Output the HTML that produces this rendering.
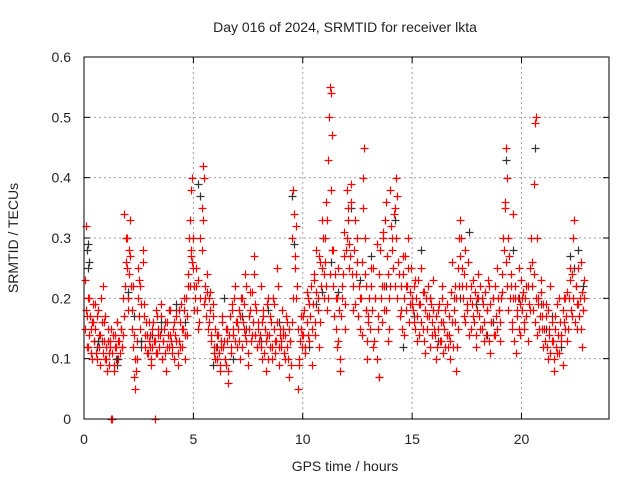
<!DOCTYPE html>
<html><head><meta charset="utf-8"><style>
body{margin:0;background:#fff;}
svg{display:block;font-family:"Liberation Sans",sans-serif;}
</style></head><body>
<svg id="chart" width="640" height="480" xmlns="http://www.w3.org/2000/svg">
<rect width="640" height="480" fill="#fff"/>
<text x="345" y="32" font-size="14" text-anchor="middle" fill="#222">Day 016 of 2024, SRMTID for receiver lkta</text>
<text x="345" y="471" font-size="14" text-anchor="middle" fill="#222">GPS time / hours</text>
<text transform="translate(18,238) rotate(-90)" font-size="14" text-anchor="middle" fill="#222">SRMTID / TECUs</text>
<g id="grid"></g>
<g id="ticks"></g>
<g id="marks"></g>
<rect x="84" y="57" width="525" height="362" fill="none" stroke="#000" stroke-width="1"/>
</svg>
<script>
const xTicks = [0,5,10,15,20];
const yTicks = [0,0.1,0.2,0.3,0.4,0.5,0.6];
const yTickLabels = ["0","0.1","0.2","0.3","0.4","0.5","0.6"];
const redTimes = [
0.05,0.1,0.15,0.2,0.25,0.3,0.35,0.4,0.45,0.5,0.55,0.6,0.7,0.75,0.8,0.85,0.9,0.95,
1.0,1.05,1.1,1.15,1.2,1.25,1.3,1.35,1.4,1.45,1.5,1.55,1.6,1.7,1.75,1.8,1.85,1.9,1.95,
2.0,2.05,2.1,2.15,2.2,2.25,2.3,2.35,2.4,2.45,2.5,2.55,2.6,2.7,2.75,2.8,2.9,2.95,
3.0,3.05,3.1,3.2,3.25,3.3,3.35,3.4,3.5,3.55,3.6,3.7,3.75,3.8,3.9,3.95,
4.0,4.1,4.2,4.3,4.35,4.4,4.5,4.55,4.6,4.7,4.75,4.8,4.85,4.9,4.95,4.9,
5.0,5.05,5.1,5.2,5.3,5.4,5.45,5.5,5.55,5.6,5.7,5.75,5.8,5.9,5.95,
6.0,6.1,6.2,6.25,6.3,6.4,6.5,6.55,6.6,6.7,6.75,6.8,6.9,6.95,
7.0,7.1,7.15,7.2,7.3,7.35,7.4,7.5,7.55,7.6,7.7,7.75,7.8,7.9,7.95,
8.0,8.1,8.15,8.2,8.3,8.35,8.4,8.5,8.55,8.6,8.7,8.75,8.8,8.9,8.95,
9.0,9.05,9.1,9.2,9.3,9.35,9.4,9.5,9.55,9.6,9.65,9.7,9.8,9.85,9.9,9.95,
10.0,10.1,10.2,10.25,10.3,10.4,10.5,10.55,10.6,10.7,10.75,10.8,10.9,10.95,
11.0,11.05,11.1,11.15,11.2,11.25,11.3,11.35,11.4,11.5,11.55,11.6,11.7,11.75,11.8,11.9,11.95,
12.0,12.05,12.1,12.2,12.25,12.3,12.4,12.5,12.6,12.7,12.75,12.8,12.85,12.9,12.95,
13.0,13.1,13.2,13.3,13.4,13.45,13.5,13.6,13.65,13.7,13.8,13.85,13.9,13.95,
14.0,14.1,14.2,14.25,14.3,14.4,14.5,14.6,14.65,14.7,14.8,14.9,14.95,
15.0,15.1,15.15,15.2,15.3,15.4,15.5,15.55,15.6,15.7,15.8,15.9,15.95,
16.0,16.1,16.2,16.3,16.35,16.4,16.5,16.6,16.7,16.75,16.8,16.9,16.95,
17.0,17.05,17.1,17.15,17.2,17.3,17.35,17.4,17.5,17.6,17.7,17.8,17.9,17.95,
18.0,18.1,18.2,18.3,18.4,18.5,18.55,18.6,18.7,18.8,18.9,18.95,
19.0,19.1,19.2,19.25,19.3,19.35,19.4,19.5,19.55,19.6,19.7,19.75,19.8,19.9,19.95,
20.0,20.1,20.2,20.3,20.4,20.5,20.55,20.6,20.65,20.7,20.75,20.8,20.9,20.95,
21.0,21.1,21.2,21.25,21.3,21.4,21.5,21.55,21.6,21.7,21.8,21.9,21.95,
22.0,22.1,22.2,22.3,22.35,22.4,22.5,22.55,22.6,22.7,22.75,22.8,22.85
];
const redValues = [
.23,.32,.17,.12,.2,.15,.1,.16,.13,.19,.11,.17,.14,.09,.13,.22,.16,.1,
.12,.08,.15,.11,.13,0,0,.09,.14,.12,.16,.1,.13,.15,.12,.2,.34,.3,.25,
.18,.28,.33,.22,.15,.12,.07,.05,.1,.25,.17,.22,.13,.28,.19,.14,.11,.16,
.12,.09,.15,.13,0,.11,.17,.14,.19,.1,.13,.16,.08,.12,.18,.14,
.11,.16,.13,.09,.18,.12,.15,.2,.1,.14,.22,.3,.33,.38,.4,.27,
.25,.18,.22,.15,.3,.35,.42,.4,.2,.24,.16,.21,.13,.19,.11,
.1,.14,.08,.12,.17,.13,.09,.15,.06,.11,.19,.14,.22,.16,
.12,.18,.1,.2,.15,.24,.13,.09,.17,.21,.14,.27,.19,.12,.16,
.13,.22,.1,.17,.08,.14,.2,.12,.16,.1,.19,.13,.25,.09,.15,
.12,.18,.14,.1,.16,.07,.13,.3,.38,.34,.25,.2,.05,.09,.15,.12,
.17,.11,.21,.14,.19,.09,.23,.16,.28,.2,.12,.26,.33,.24,
.3,.36,.18,.43,.5,.55,.54,.47,.28,.2,.12,.25,.08,.17,.22,.31,.15,
.38,.35,.29,.39,.24,.18,.33,.26,.2,.14,.4,.45,.3,.22,.1,
.17,.25,.12,.2,.29,.15,.07,.22,.31,.18,.36,.27,.13,.2,
.38,.3,.35,.4,.37,.24,.18,.27,.14,.22,.3,.19,.25,
.2,.16,.23,.13,.19,.25,.15,.21,.11,.17,.2,.14,.23,
.15,.1,.18,.13,.22,.16,.12,.19,.14,.1,.26,.2,.16,
.08,.12,.25,.3,.33,.22,.17,.28,.19,.14,.22,.17,.12,.2,
.24,.15,.2,.13,.18,.22,.11,.16,.2,.14,.25,.18,
.13,.21,.28,.35,.45,.4,.3,.22,.15,.34,.2,.11,.18,.25,.14,
.2,.16,.22,.13,.18,.26,.39,.49,.5,.3,.2,.15,.23,.17,
.12,.19,.1,.15,.22,.13,.08,.17,.11,.2,.14,.09,.16,
.2,.13,.25,.17,.3,.33,.22,.15,.19,.26,.12,.18,.23
];
// second epoch set: one row per hour, samples every 3 minutes (offset 1.5 min)
const redHourRows = [
[.15,.18,.12,.2,.14,.17,.11,.16,.19,.13,.15,.1,.18,.12,.14,.2,.16,.11,.13,.17],
[.1,.13,.09,.12,.15,.11,.14,.08,.12,.1,.16,.13,.11,.15,.12,.14,.17,.22,.26,.3],
[.2,.24,.27,.18,.22,.14,.1,.08,.13,.2,.23,.15,.19,.26,.17,.12,.16,.14,.11,.13],
[.14,.1,.12,.16,.13,.18,.11,.15,.12,.14,.17,.1,.13,.15,.11,.16,.14,.12,.18,.13],
[.12,.15,.1,.14,.17,.11,.13,.16,.19,.12,.15,.18,.14,.2,.17,.24,.22,.28,.26,.3],
[.22,.2,.25,.18,.23,.16,.2,.28,.33,.19,.22,.17,.21,.15,.2,.18,.14,.17,.12,.15],
[.12,.1,.14,.11,.09,.13,.16,.12,.1,.15,.13,.08,.14,.17,.12,.18,.15,.2,.13,.16],
[.15,.13,.17,.2,.12,.16,.19,.14,.22,.11,.15,.18,.13,.21,.16,.24,.14,.18,.12,.15],
[.14,.12,.16,.18,.11,.15,.13,.19,.1,.14,.17,.12,.2,.15,.11,.13,.16,.22,.12,.14],
[.13,.15,.11,.14,.17,.12,.1,.15,.13,.09,.16,.2,.27,.32,.22,.15,.1,.13,.17,.14],
[.14,.18,.12,.16,.2,.13,.17,.22,.15,.19,.24,.14,.21,.18,.27,.16,.22,.25,.3,.2],
[.26,.22,.33,.2,.24,.38,.28,.22,.17,.24,.15,.2,.13,.18,.1,.2,.24,.27,.19,.28],
[.3,.33,.25,.27,.36,.22,.28,.19,.24,.3,.17,.22,.15,.2,.26,.35,.24,.18,.13,.16],
[.2,.15,.22,.18,.25,.13,.2,.1,.17,.24,.28,.2,.16,.3,.22,.33,.18,.24,.15,.22],
[.32,.28,.25,.34,.22,.3,.2,.26,.17,.22,.15,.24,.2,.27,.18,.22,.25,.16,.21,.19],
[.18,.22,.15,.2,.17,.23,.14,.19,.16,.21,.13,.18,.2,.15,.22,.17,.12,.19,.16,.18],
[.14,.17,.12,.15,.19,.13,.16,.2,.11,.15,.18,.14,.12,.17,.13,.21,.16,.12,.18,.22],
[.2,.15,.22,.27,.3,.25,.2,.24,.16,.22,.18,.26,.2,.15,.19,.23,.16,.21,.14,.18],
[.2,.17,.22,.15,.19,.16,.21,.14,.18,.23,.13,.19,.16,.2,.14,.22,.17,.15,.2,.18],
[.16,.2,.24,.3,.36,.26,.22,.18,.27,.2,.24,.16,.2,.13,.22,.17,.2,.15,.19,.23],
[.18,.21,.15,.2,.17,.22,.19,.25,.3,.22,.18,.24,.16,.2,.14,.19,.17,.21,.15,.19],
[.15,.13,.17,.12,.18,.14,.11,.16,.13,.1,.15,.12,.19,.14,.11,.16,.13,.18,.2,.15],
[.17,.21,.15,.2,.23,.18,.24,.2,.16,.22,.19,.25,.17,.2,.15,.21,.18,.2]
];
const blackTimes = [0.15,0.2,0.6,1.5,2.0,2.6,3.5,4.2,5.2,5.3,5.9,6.4,7.2,7.8,8.4,9.5,9.6,10.3,10.9,11.6,12.2,12.6,13.5,13.1,14.2,14.6,15.4,16.2,17.2,17.6,18.4,19.3,19.6,20.6,20.9,21.4,22.2,22.6,22.8,
1.1,2.3,3.1,4.6,6.1,6.8,7.4,8.1,8.9,10.6,11.3,12.9,13.8,15.1,15.8,16.6,17.9,18.7,19.9,21.1,21.8,22.4];
const blackValues = [.28,.25,.12,.09,.2,.12,.15,.18,.39,.37,.09,.2,.17,.14,.18,.37,.29,.12,.21,.21,.35,.23,.07,.27,.33,.12,.28,.13,.2,.31,.14,.43,.28,.45,.19,.17,.27,.28,.22,
.13,.17,.14,.16,.12,.1,.15,.13,.16,.19,.26,.18,.22,.17,.2,.14,.19,.16,.2,.15,.12,.25];

const NS='http://www.w3.org/2000/svg';
const L=84,R=609,T=57,B=419,XMAX=24,YMAX=0.6;
function xs(v){return L+v*(R-L)/XMAX;}
function ys(v){return B-v*(B-T)/YMAX;}
function mk(tag,attrs,parent){const e=document.createElementNS(NS,tag);for(const k in attrs)e.setAttribute(k,attrs[k]);parent.appendChild(e);return e;}
const grid=document.getElementById('grid'),ticks=document.getElementById('ticks'),marks=document.getElementById('marks');
xTicks.forEach(function(t){
  const x=xs(t);
  if(t>0){const g=mk('line',{x1:x,y1:T,x2:x,y2:B,stroke:'#a0a0a0','stroke-dasharray':'2,3','stroke-width':1},grid);
  
  }
  const a=mk('line',{x1:x,y1:B,x2:x,y2:B-6,stroke:'#000'},ticks);
  
  
  const b=mk('line',{x1:x,y1:T,x2:x,y2:T+6,stroke:'#000'},ticks);
  
  
  const tx=mk('text',{x:x,y:444,'font-size':14,'text-anchor':'middle',fill:'#222'},ticks);
  tx.textContent=String(t);
  
  
});
yTicks.forEach(function(t,i){
  const y=ys(t);
  if(t>0&&t<YMAX){const g=mk('line',{x1:L,y1:y,x2:R,y2:y,stroke:'#a0a0a0','stroke-dasharray':'2,3','stroke-width':1},grid);
  
  }
  const a=mk('line',{x1:L,y1:y,x2:L+6,y2:y,stroke:'#000'},ticks);
  
  
  const b=mk('line',{x1:R,y1:y,x2:R-6,y2:y,stroke:'#000'},ticks);
  
  
  const tx=mk('text',{x:71,y:y+5,'font-size':14,'text-anchor':'end',fill:'#222'},ticks);
  tx.textContent=yTickLabels[i];
  
  
});
function plus(t,v,color,name){
  const x=Math.round(xs(t))+0.5,y=Math.round(ys(v))+0.5;
  const p=mk('path',{d:'M'+(x-4)+' '+y+'H'+(x+4)+'M'+x+' '+(y-4)+'V'+(y+4),stroke:color,'stroke-width':1.2,fill:'none'},marks);
  
  
}
blackTimes.forEach(function(t,i){plus(t,blackValues[i],'#333333','black-point');});
redTimes.forEach(function(t,i){plus(t,redValues[i],'#ff0000','red-point');});
redHourRows.forEach(function(row,h){
  row.forEach(function(v,k){plus(h+0.025+k*0.05,v,'#ff0000','red-point');});
});
blackTimes.slice(0,8).forEach(function(t,i){plus(t+0.02,blackValues[i]+0.01,'#333333','black-point');});
</script>
</body></html>
